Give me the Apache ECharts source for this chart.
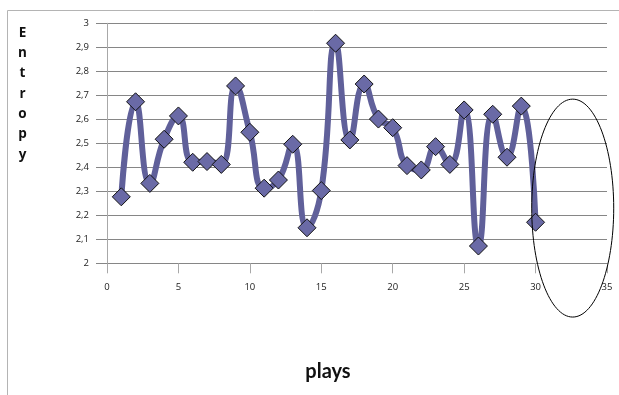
<!DOCTYPE html>
<html>
<head>
<meta charset="utf-8">
<script src="https://cdn.jsdelivr.net/npm/echarts@6/dist/echarts.min.js"></script>
<style>
  html, body { margin: 0; padding: 0; background: #fff; }
  #chart { width: 619px; height: 395px; }
</style>
</head>
<body>
<div id="chart"></div>
<script>
// Entropy per play
const plays = [1, 2, 3, 4, 5, 6, 7, 8, 9, 10, 11, 12, 13, 14, 15,
               16, 17, 18, 19, 20, 21, 22, 23, 24, 25, 26, 27, 28, 29, 30];
const entropy = [2.277, 2.673, 2.333, 2.517, 2.614, 2.421, 2.424, 2.412, 2.739, 2.546,
                 2.313, 2.347, 2.496, 2.148, 2.303, 2.917, 2.514, 2.747, 2.601, 2.565,
                 2.407, 2.389, 2.486, 2.412, 2.639, 2.072, 2.621, 2.442, 2.655, 2.171];
const yAxisTitle = 'Entropy';
const xAxisTitle = 'plays';

// Highlighted region after the last play (centre and half-extents in data units)
const highlight = { x: 32.6, y: 2.23, rx: 2.87, ry: 0.454 };

const chart = echarts.init(document.getElementById('chart'));
const labelFont = '"Open Sans", "Liberation Sans", sans-serif';

chart.setOption({
  animation: false,
  grid: { left: 107, right: 12, top: 23.3, bottom: 131.7, containLabel: false },
  xAxis: {
    type: 'value', min: 0, max: 35, interval: 5,
    axisLine: { show: true, onZero: false, lineStyle: { color: '#868686', width: 1 } },
    axisTick: { show: true, length: 10, lineStyle: { color: '#a8a8a8' } },
    axisLabel: { margin: 19, fontSize: 9.5, color: '#222', fontFamily: labelFont },
    splitLine: { show: false }
  },
  yAxis: {
    type: 'value', min: 2, max: 3, interval: 0.1,
    axisLine: { show: true, lineStyle: { color: '#a8a8a8', width: 1 } },
    axisTick: { show: true, length: 11, lineStyle: { color: '#868686' } },
    axisLabel: {
      margin: 18, fontSize: 9.5, color: '#222', fontFamily: labelFont,
      formatter: v => String(Math.round(v * 10) / 10).replace('.', ',')
    },
    splitLine: { show: true, lineStyle: { color: '#868686', width: 1 } }
  },
  series: [{
    type: 'line',
    data: plays.map((p, i) => [p, entropy[i]]),
    smooth: 0.5,
    lineStyle: { color: '#60609a', width: 6 },
    symbol: 'diamond',
    symbolSize: 18,
    itemStyle: { color: '#6a6aa6', borderColor: '#111', borderWidth: 1 },
    z: 3
  }]
});

const c = chart.convertToPixel({ gridIndex: 0 }, [highlight.x, highlight.y]);
const ex = chart.convertToPixel({ gridIndex: 0 }, [highlight.x + highlight.rx, highlight.y + highlight.ry]);

const letters = yAxisTitle.split('').map((ch, i) => ({
  type: 'text', x: 22.5, y: 33 + i * 20.3,
  style: {
    text: ch, fill: '#111', font: 'bold 13.5px "Open Sans", sans-serif',
    textAlign: 'center', textVerticalAlign: 'middle'
  }
}));

chart.setOption({
  graphic: [
    {
      type: 'polyline',
      shape: { points: [[7.5, 395], [7.5, 10.5], [619, 10.5]] },
      style: { stroke: '#b4b4b4', lineWidth: 1, fill: null },
      silent: true
    },
    ...letters,
    {
      type: 'text', x: 328, y: 372,
      style: {
        text: xAxisTitle, fill: '#111', font: 'bold 20px Lato, "Open Sans", sans-serif',
        textAlign: 'center', textVerticalAlign: 'middle'
      }
    },
    {
      type: 'ellipse',
      shape: { cx: c[0], cy: c[1], rx: ex[0] - c[0], ry: c[1] - ex[1] },
      style: { stroke: '#000', lineWidth: 1, fill: null },
      z: 10
    }
  ]
});
</script>
</body>
</html>
